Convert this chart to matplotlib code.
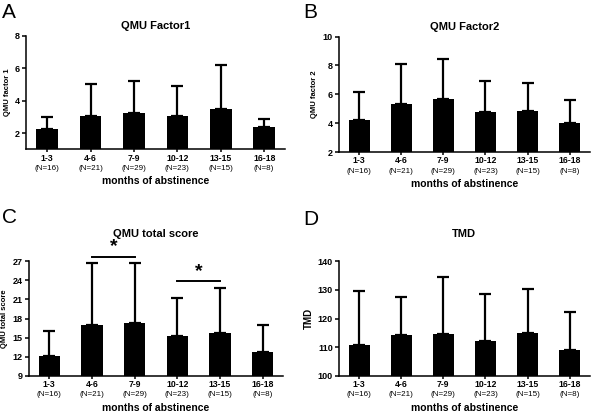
import numpy as np
import matplotlib
matplotlib.use("Agg")
import matplotlib.pyplot as plt

plt.rcParams['font.family'] = ['Liberation Sans', 'DejaVu Sans']

months = ["1-3", "4-6", "7-9", "10-12", "13-15", "16-18"]
group_n = ["(N=16)", "(N=21)", "(N=29)", "(N=23)", "(N=15)", "(N=8)"]

factor1_mean = [2.25, 3.07, 3.25, 3.07, 3.48, 2.36]
factor1_top = [2.97, 5.0, 5.2, 4.93, 6.22, 2.9]

factor2_mean = [4.2, 5.33, 5.65, 4.77, 4.85, 4.0]
factor2_top = [6.18, 8.07, 8.47, 6.9, 6.82, 5.62]

total_mean = [12.15, 16.95, 17.3, 15.25, 15.7, 12.7]
total_top = [16.1, 26.7, 26.75, 21.15, 22.8, 17.0]

tmd_mean = [110.7, 114.1, 114.5, 112.2, 115.1, 109.0]
tmd_top = [129.6, 127.6, 134.3, 128.7, 130.4, 122.3]

# significance brackets in panel C: (from group, to group, height)
sig_pairs = [(1, 2, 27.7), (3, 4, 23.8)]

fig = plt.figure(figsize=(6, 4.15), dpi=100)


def panel(rect, letter, letter_xy, title, ylabel, mean, top, ylim, yticks, title_pad,
          ylabel_size=5.5):
    ax = fig.add_axes(rect)
    x = np.arange(len(months))
    mean = np.array(mean)
    up = np.array(top) - mean
    ax.bar(x, mean - ylim[0], bottom=ylim[0], width=0.5, color="black", zorder=2)
    ax.errorbar(x, mean, yerr=[np.zeros_like(up), up], fmt="none", ecolor="black",
                elinewidth=1.6, capsize=4.3, capthick=1.6, zorder=1)
    ax.set_xlim(-0.48, 5.48)
    ax.set_ylim(*ylim)
    ax.set_yticks(yticks)
    ax.set_xticks(x)
    ax.set_xticklabels(months, fontsize=6.2, fontweight="bold")
    for t in ax.get_yticklabels():
        t.set_fontsize(6.5)
        t.set_fontweight("bold")
    for i, n in enumerate(group_n):
        ax.text(i, -0.165, n, transform=ax.get_xaxis_transform(), ha="center",
                va="center", fontsize=5.8)
    ax.spines["top"].set_visible(False)
    ax.spines["right"].set_visible(False)
    ax.spines["left"].set_linewidth(1.1)
    ax.spines["bottom"].set_linewidth(1.1)
    ax.tick_params(axis="both", direction="out", length=3, width=1.1, pad=1.5)
    ax.tick_params(axis="x", length=2.5, pad=0.5)
    ax.set_title(title, fontsize=8, fontweight="bold", pad=title_pad)
    ax.set_ylabel(ylabel, fontsize=ylabel_size, fontweight="bold", labelpad=3)
    ax.set_xlabel("months of abstinence", fontsize=7.5, fontweight="bold", labelpad=10)
    fig.text(letter_xy[0], letter_xy[1], letter, fontsize=15, va="center")
    return ax


panel([0.044, 0.640, 0.431, 0.274], "A", (0.004, 0.971), "QMU Factor1", "QMU factor 1",
      factor1_mean, factor1_top, (1, 8), [2, 4, 6, 8], 4.5)
panel([0.565, 0.633, 0.418, 0.279], "B", (0.506, 0.971), "QMU Factor2", "QMU factor 2",
      factor2_mean, factor2_top, (2, 10), [2, 4, 6, 8, 10], 4.5)
axc = panel([0.048, 0.094, 0.424, 0.277], "C", (0.004, 0.475), "QMU total score",
            "QMU total score", total_mean, total_top, (9, 27),
            [9, 12, 15, 18, 21, 24, 27], 17)
panel([0.565, 0.094, 0.418, 0.277], "D", (0.506, 0.472), "TMD", "TMD",
      tmd_mean, tmd_top, (100, 140), [100, 110, 120, 130, 140], 17, ylabel_size=7)

for a, b, h in sig_pairs:
    axc.plot([a, b], [h, h], color="black", lw=1.4, clip_on=False)
    axc.text((a + b) / 2, h + 0.2, "*", ha="center", va="bottom", fontsize=14,
             fontweight="bold", clip_on=False)

fig.savefig("out.png", dpi=100)
